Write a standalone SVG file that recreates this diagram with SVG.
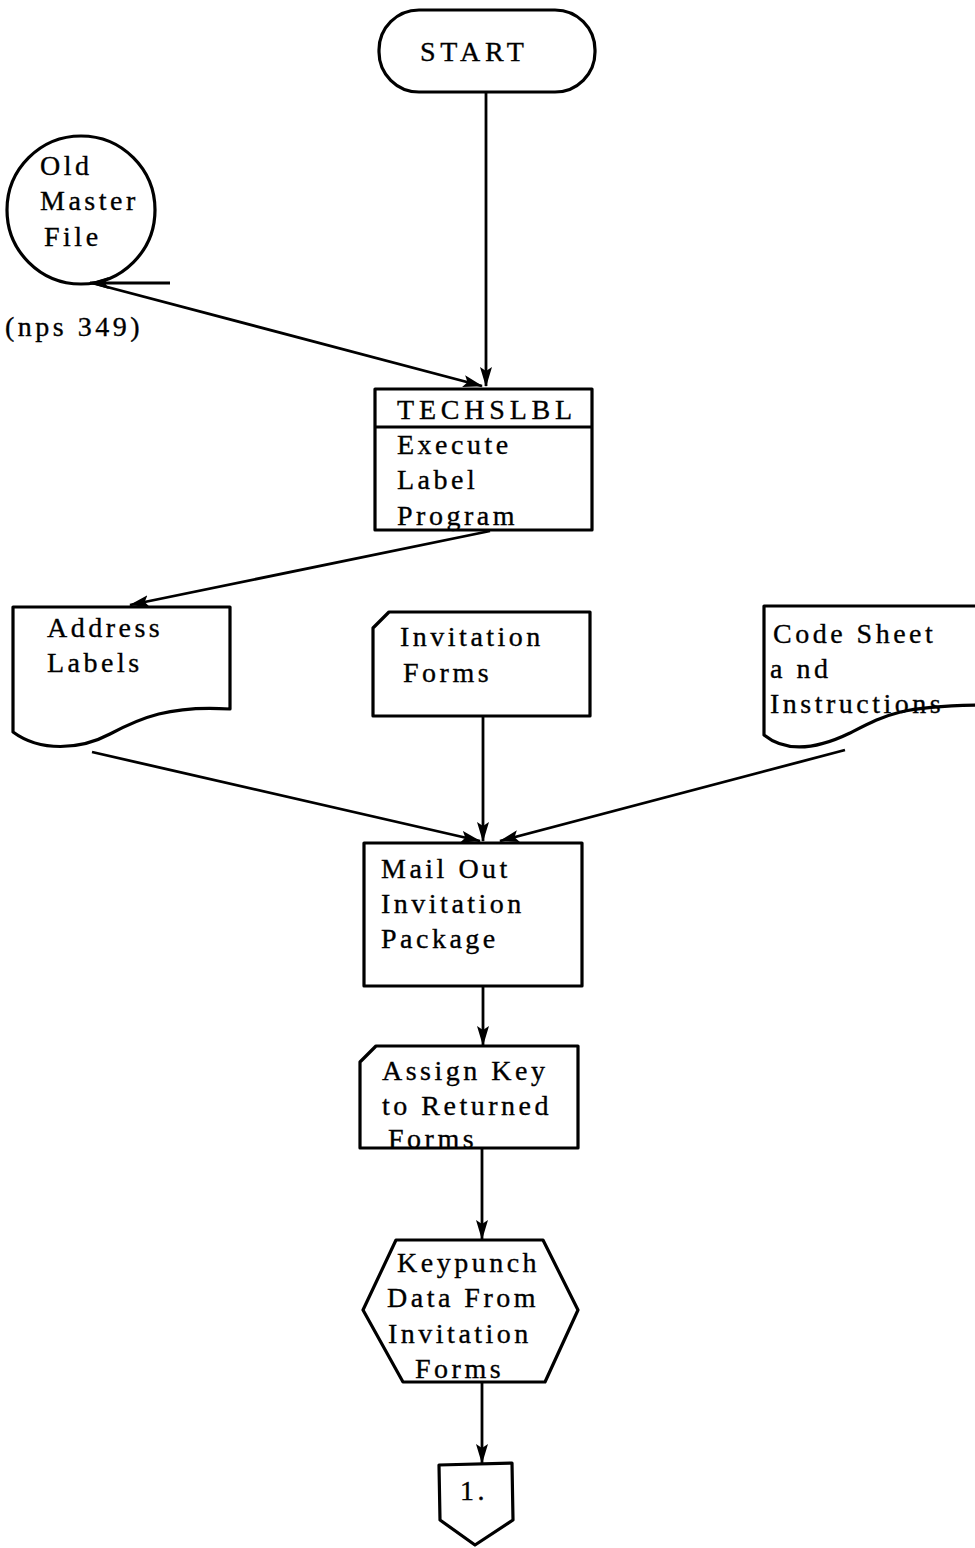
<svg xmlns="http://www.w3.org/2000/svg" width="975" height="1548" viewBox="0 0 975 1548">
  <style>
    .shape { fill: none; stroke: #000; stroke-width: 3.2; stroke-linejoin: round; }
    .link { fill: none; stroke: #000; stroke-width: 2.8; }
    text { font-family: "Liberation Serif", "Times New Roman", serif; font-size: 28px; letter-spacing: 3.5px; fill: #000; stroke: #000; stroke-width: 0.35; }
    .caps { letter-spacing: 4.8px; }
  </style>
  <defs>
    <marker id="arrow" viewBox="0 0 20 12" refX="19" refY="6" markerWidth="20" markerHeight="12" markerUnits="userSpaceOnUse" orient="auto">
      <path d="M0,0 L20,6 L0,12 L4,6 Z" fill="#000"/>
    </marker>
  </defs>
  <rect width="975" height="1548" fill="#fff"/>

  <!-- connectors -->
  <g id="connectors">
    <line class="link" x1="486" y1="92" x2="486" y2="386" marker-end="url(#arrow)"/>
    <line class="link" x1="170" y1="283" x2="90" y2="283" marker-end="url(#arrow)"/>
    <line class="link" x1="92" y1="283" x2="482" y2="386" marker-end="url(#arrow)"/>
    <line class="link" x1="490" y1="531" x2="130" y2="605" marker-end="url(#arrow)"/>
    <line class="link" x1="92" y1="752" x2="480" y2="841" marker-end="url(#arrow)"/>
    <line class="link" x1="483" y1="716" x2="483" y2="841" marker-end="url(#arrow)"/>
    <line class="link" x1="845" y1="750" x2="500" y2="841" marker-end="url(#arrow)"/>
    <line class="link" x1="483" y1="986" x2="483" y2="1045" marker-end="url(#arrow)"/>
    <line class="link" x1="482" y1="1148" x2="482" y2="1239" marker-end="url(#arrow)"/>
    <line class="link" x1="482" y1="1382" x2="482" y2="1463" marker-end="url(#arrow)"/>
  </g>

  <!-- terminal -->
  <g id="start">
    <rect class="shape" x="379" y="10" width="216" height="82" rx="40" ry="40"/>
    <text class="caps" x="420" y="61">START</text>
  </g>

  <!-- master file -->
  <g id="old-master-file">
    <circle class="shape" cx="81" cy="210" r="74"/>
    <text x="40" y="175">Old</text>
    <text x="40" y="210">Master</text>
    <text x="44" y="246">File</text>
  </g>
  <g id="nps-note">
    <text x="5" y="336">(nps 349)</text>
  </g>

  <!-- label program -->
  <g id="techslbl">
    <rect class="shape" x="375" y="389" width="217" height="141"/>
    <line class="shape" x1="375" y1="427" x2="592" y2="427"/>
    <text class="caps" x="397" y="419">TECHSLBL</text>
    <text x="397" y="454">Execute</text>
    <text x="397" y="489">Label</text>
    <text x="397" y="525">Program</text>
  </g>

  <!-- documents and cards -->
  <g id="address-labels">
    <path class="shape" d="M13,607 L230,607 L230,709 C170,705 140,718 110,734 C80,750 40,752 13,732 Z"/>
    <text x="47" y="637">Address</text>
    <text x="47" y="672">Labels</text>
  </g>

  <g id="invitation-forms">
    <path class="shape" d="M389,612 L590,612 L590,716 L373,716 L373,628 Z"/>
    <text x="400" y="646">Invitation</text>
    <text x="403" y="682">Forms</text>
  </g>

  <g id="code-sheet">
    <path class="shape" d="M978,606 L764,606 L764,735 C785,752 815,750 850,733 C885,715 900,706 978,705"/>
    <text x="773" y="643">Code Sheet</text>
    <text x="770" y="678">a nd</text>
    <text x="770" y="713">Instructions</text>
  </g>

  <g id="mail-out">
    <rect class="shape" x="364" y="843" width="218" height="143"/>
    <text x="381" y="878">Mail Out</text>
    <text x="381" y="913">Invitation</text>
    <text x="381" y="948">Package</text>
  </g>

  <g id="assign-key">
    <path class="shape" d="M376,1046 L578,1046 L578,1148 L360,1148 L360,1062 Z"/>
    <text x="382" y="1080">Assign Key</text>
    <text x="382" y="1115">to Returned</text>
    <text x="388" y="1148">Forms</text>
  </g>

  <g id="keypunch">
    <path class="shape" d="M396,1240 L543,1240 L578,1310 L545,1382 L403,1382 L363,1310 Z"/>
    <text x="397" y="1272">Keypunch</text>
    <text x="387" y="1307">Data From</text>
    <text x="388" y="1343">Invitation</text>
    <text x="415" y="1378">Forms</text>
  </g>

  <!-- off-page connector -->
  <g id="connector-1">
    <path class="shape" d="M439,1465 L512,1463 L513,1520 L475,1545 L440,1520 Z"/>
    <text x="460" y="1500">1.</text>
  </g>
</svg>
